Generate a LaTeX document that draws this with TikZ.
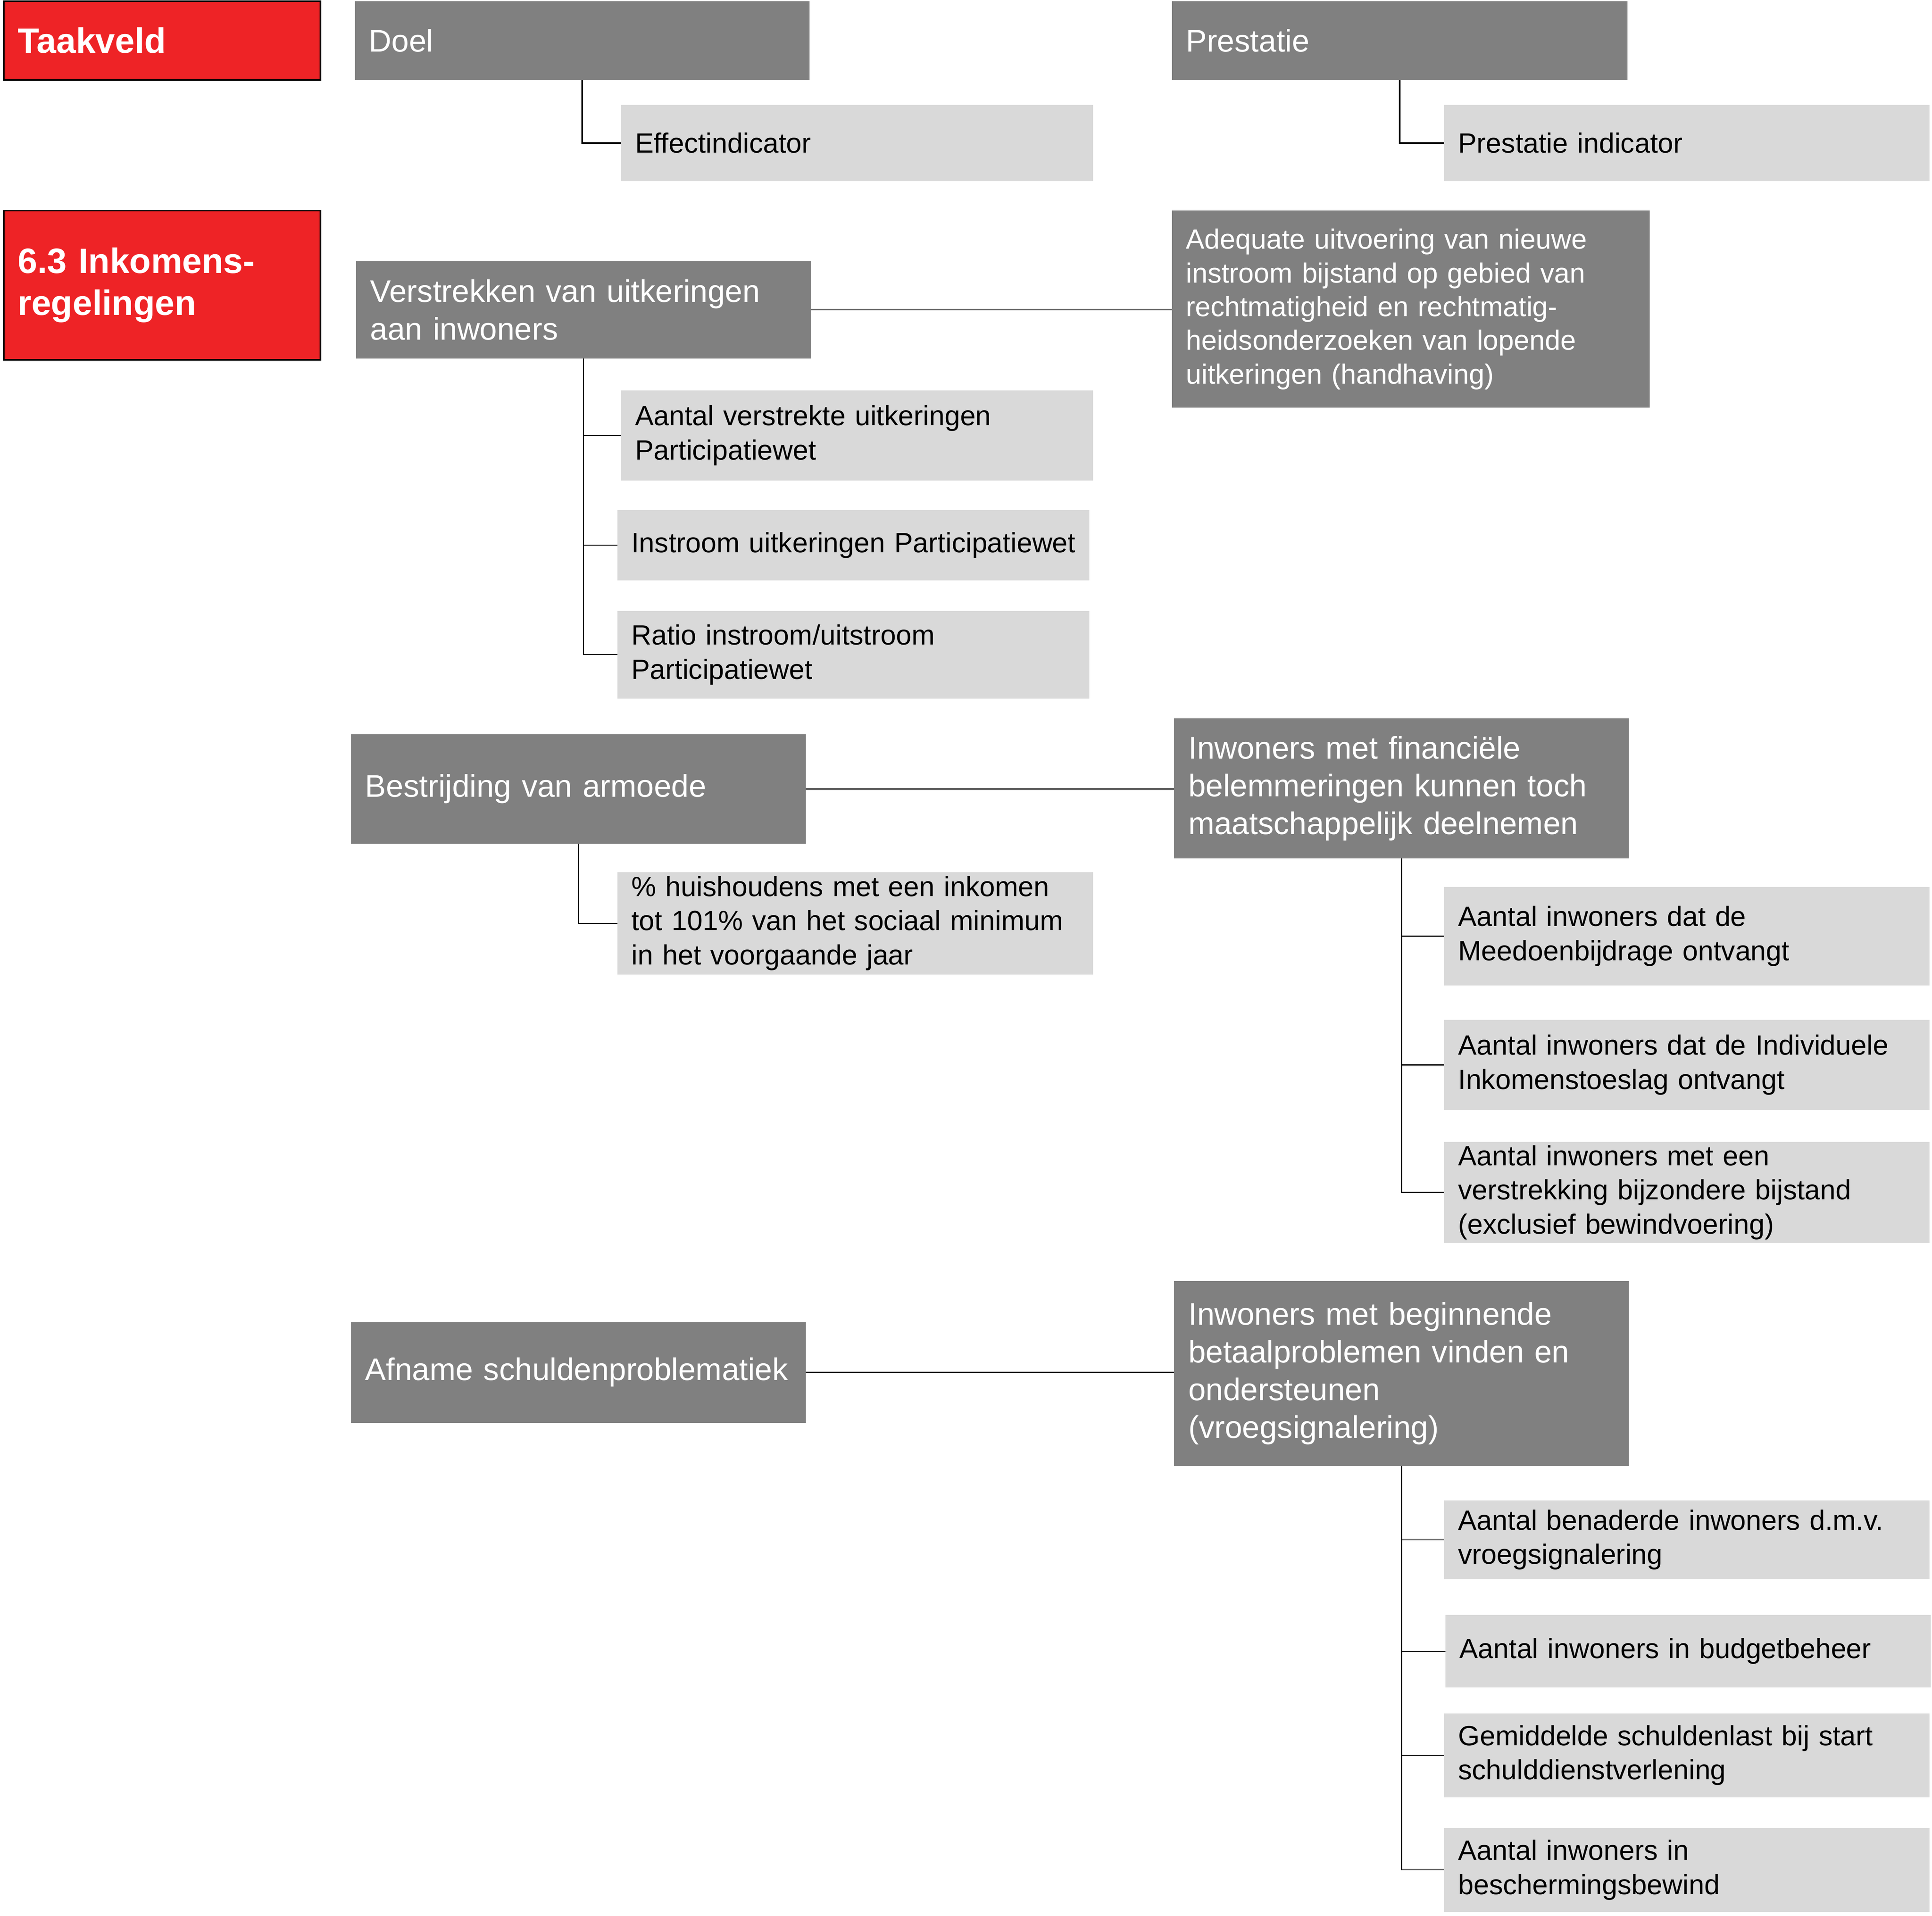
\documentclass[tikz,border=0pt]{standalone}
\usepackage{fontspec}
\setmainfont{Liberation Sans}
\definecolor{kred}{HTML}{EE2326}
\definecolor{kgray}{HTML}{808080}
\definecolor{klight}{HTML}{D9D9D9}
\begin{document}
\begin{tikzpicture}[x=1pt,y=-1pt,
  base/.style={anchor=north west, outer sep=0pt, inner xsep=11.5pt, inner ysep=0pt, align=left, execute at begin node={\hyphenpenalty=10000\exhyphenpenalty=10000}},
  sz/.code 2 args={\pgfmathsetmacro\tw{#1-23}\edef\next{\noexpand\pgfkeysalso{minimum width=#1pt,minimum height=#2pt,text width=\tw pt}}\next},
  redbox/.style={base, fill=kred, draw=black, line width=1.2pt, text=white, font=\fontsize{28.6}{34}\selectfont\bfseries},
  graybox/.style={base, fill=kgray, text=white, font=\fontsize{25.4}{30.6}\selectfont},
  graysmall/.style={base, fill=kgray, text=white, font=\fontsize{22.6}{27.4}\selectfont},
  lightbox/.style={base, fill=klight, text=black, font=\fontsize{22.6}{27.8}\selectfont},
  conn/.style={draw=black, line width=0.8pt},
  connthick/.style={draw=black, line width=1.4pt}
]
\useasboundingbox (0,0) rectangle (1568,1555.4);

% header row
\node[redbox, sz={257}{64}] (taak) at (3,1) {Taakveld};
\node[graybox, sz={369}{64}] (doel) at (288,1) {Doel};
\node[lightbox, sz={383}{62}] (effect) at (504,85) {Effectindicator};
\node[graybox, sz={370}{64}] (prest) at (951,1) {Prestatie};
\node[lightbox, sz={394}{62}] (prestind) at (1172,85) {Prestatie indicator};

% taakveld
\node[redbox, sz={257}{121}] (inkomen) at (3,171) {6.3 Inkomens-\\regelingen};

% doel 1
\node[graybox, sz={369}{79}] (verstr) at (289,212) {Verstrekken van uitkeringen\\aan inwoners};
\node[graysmall, sz={388}{160}] (adeq) at (951,171) {Adequate uitvoering van nieuwe\\instroom bijstand op gebied van\\rechtmatigheid en rechtmatig-\\heidsonderzoeken van lopende\\uitkeringen (handhaving)};
\node[lightbox, sz={383}{73}] (avu) at (504,317) {Aantal verstrekte uitkeringen\\Participatiewet};
\node[lightbox, sz={383}{57}] (instr) at (501,414) {\mbox{Instroom uitkeringen Participatiewet}};
\node[lightbox, sz={383}{71}] (ratio) at (501,496) {Ratio instroom/uitstroom\\Participatiewet};

% doel 2
\node[graybox, sz={369}{89}] (bestr) at (285,596) {Bestrijding van armoede};
\node[graybox, sz={369}{114}] (fin) at (953,583) {Inwoners met financiële\\belemmeringen kunnen toch\\maatschappelijk deelnemen};
\node[lightbox, sz={386}{83}] (huish) at (501,708) {\% huishoudens met een inkomen\\tot 101\% van het sociaal minimum\\in het voorgaande jaar};
\node[lightbox, sz={394}{80}] (meed) at (1172,720) {Aantal inwoners dat de\\Meedoenbijdrage ontvangt};
\node[lightbox, sz={394}{73}] (indiv) at (1172,828) {Aantal inwoners dat de Individuele\\Inkomenstoeslag ontvangt};
\node[lightbox, sz={394}{82}] (bijz) at (1172,927) {Aantal inwoners met een\\verstrekking bijzondere bijstand\\(exclusief bewindvoering)};

% doel 3
\node[graybox, sz={369}{82}] (afname) at (285,1073) {Afname schuldenproblematiek};
\node[graybox, sz={369}{150}] (begin) at (953,1040) {Inwoners met beginnende\\betaalproblemen vinden en\\ondersteunen\\(vroegsignalering)};
\node[lightbox, sz={394}{64}] (benad) at (1172,1218) {Aantal benaderde inwoners d.m.v.\\vroegsignalering};
\node[lightbox, sz={394}{59}] (budget) at (1173,1311) {Aantal inwoners in budgetbeheer};
\node[lightbox, sz={394}{68}] (gemid) at (1172,1391) {Gemiddelde schuldenlast bij start\\schulddienstverlening};
\node[lightbox, sz={394}{68}] (besch) at (1172,1484) {Aantal inwoners in\\beschermingsbewind};

% connectors
\draw[connthick] (doel.south) |- (effect.west);
\draw[connthick] (prest.south) |- (prestind.west);

\draw[conn] (verstr.east) -- (verstr.east -| adeq.west);
\draw[conn] (verstr.south) |- (avu.west);
\draw[conn] (verstr.south) |- (instr.west);
\draw[conn] (verstr.south) |- (ratio.west);

\draw[conn] (bestr.east) -- (bestr.east -| fin.west);
\draw[conn] (bestr.south) |- (huish.west);
\draw[conn] (fin.south) |- (meed.west);
\draw[conn] (fin.south) |- (indiv.west);
\draw[conn] (fin.south) |- (bijz.west);

\draw[conn] (afname.east) -- (afname.east -| begin.west);
\draw[conn] (begin.south) |- (benad.west);
\draw[conn] (begin.south) |- (budget.west);
\draw[conn] (begin.south) |- (gemid.west);
\draw[conn] (begin.south) |- (besch.west);
\end{tikzpicture}
\end{document}
